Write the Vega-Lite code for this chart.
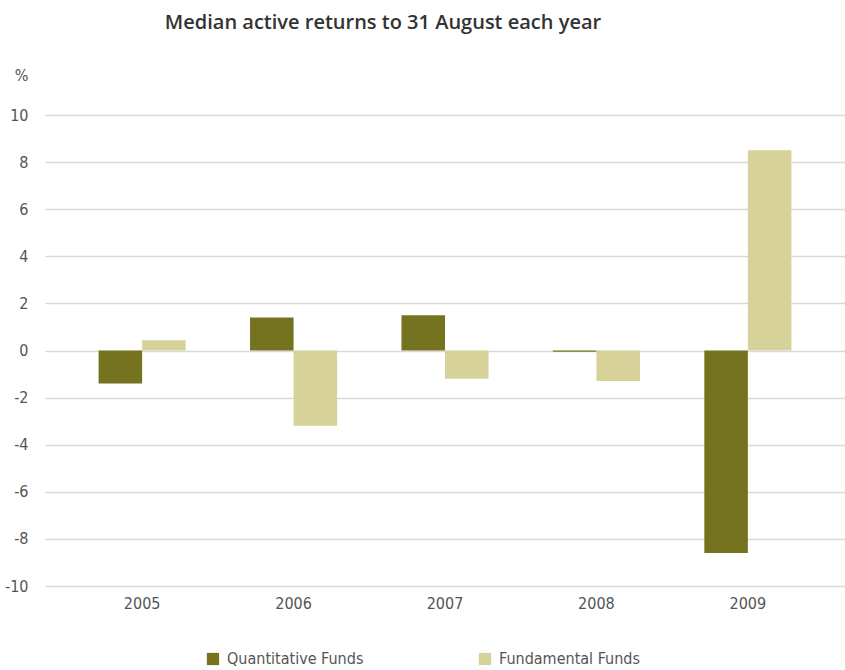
{
  "$schema": "https://vega.github.io/schema/vega-lite/v6.json",
  "width": 800,
  "height": 471,
  "autosize": {"type": "none"},
  "padding": {"left": 45, "top": 115, "right": 0, "bottom": 84},
  "background": "white",
  "title": {
    "text": "Median active returns to 31 August each year",
    "font": "Open Sans",
    "fontSize": 20,
    "fontWeight": 600,
    "color": "#333333",
    "anchor": "middle",
    "dx": -62,
    "offset": 34
  },
  "data": {
    "values": [
      {"year": "2005", "series": "Quantitative Funds", "value": -1.4},
      {"year": "2005", "series": "Fundamental Funds", "value": 0.43},
      {"year": "2006", "series": "Quantitative Funds", "value": 1.4},
      {"year": "2006", "series": "Fundamental Funds", "value": -3.2},
      {"year": "2007", "series": "Quantitative Funds", "value": 1.5},
      {"year": "2007", "series": "Fundamental Funds", "value": -1.2},
      {"year": "2008", "series": "Quantitative Funds", "value": -0.05},
      {"year": "2008", "series": "Fundamental Funds", "value": -1.3},
      {"year": "2009", "series": "Quantitative Funds", "value": -8.6},
      {"year": "2009", "series": "Fundamental Funds", "value": 8.5}
    ]
  },
  "mark": {"type": "bar"},
  "encoding": {
    "x": {
      "field": "year",
      "type": "nominal",
      "scale": {"paddingInner": 0.425, "paddingOuter": 0.354},
      "axis": {
        "title": null,
        "labelAngle": 0,
        "domain": false,
        "ticks": false,
        "labelPadding": 9,
        "labelFont": "DejaVu Sans Condensed",
        "labelFontSize": 16,
        "labelColor": "#555555"
      }
    },
    "xOffset": {
      "field": "series",
      "type": "nominal",
      "sort": ["Quantitative Funds", "Fundamental Funds"],
      "scale": {"paddingInner": 0, "paddingOuter": 0}
    },
    "y": {
      "field": "value",
      "type": "quantitative",
      "scale": {"domain": [-10, 10], "nice": false},
      "axis": {
        "values": [-10, -8, -6, -4, -2, 0, 2, 4, 6, 8, 10],
        "labelExpr": "toString(datum.value)",
        "title": "%",
        "titleAngle": 0,
        "titleAlign": "right",
        "titleBaseline": "middle",
        "titleX": -17,
        "titleY": -40,
        "titleFont": "DejaVu Sans Condensed",
        "titleFontSize": 16,
        "titleFontWeight": "normal",
        "titleColor": "#555555",
        "domain": false,
        "ticks": false,
        "labelPadding": 17,
        "labelFont": "DejaVu Sans Condensed",
        "labelFontSize": 16,
        "labelColor": "#555555",
        "grid": true,
        "gridColor": "#d9d9d9",
        "gridWidth": 1.5
      }
    },
    "color": {
      "field": "series",
      "type": "nominal",
      "sort": ["Quantitative Funds", "Fundamental Funds"],
      "scale": {
        "domain": ["Quantitative Funds", "Fundamental Funds"],
        "range": ["#75731f", "#d7d29a"]
      },
      "legend": {
        "title": null,
        "orient": "none",
        "legendX": 160,
        "legendY": 536,
        "direction": "horizontal",
        "symbolType": "square",
        "symbolSize": 150,
        "symbolStrokeWidth": 0,
        "labelFont": "DejaVu Sans Condensed",
        "labelFontSize": 16,
        "labelColor": "#555555",
        "columnPadding": 113,
        "labelOffset": 6
      }
    }
  },
  "config": {
    "view": {"stroke": null}
  }
}
